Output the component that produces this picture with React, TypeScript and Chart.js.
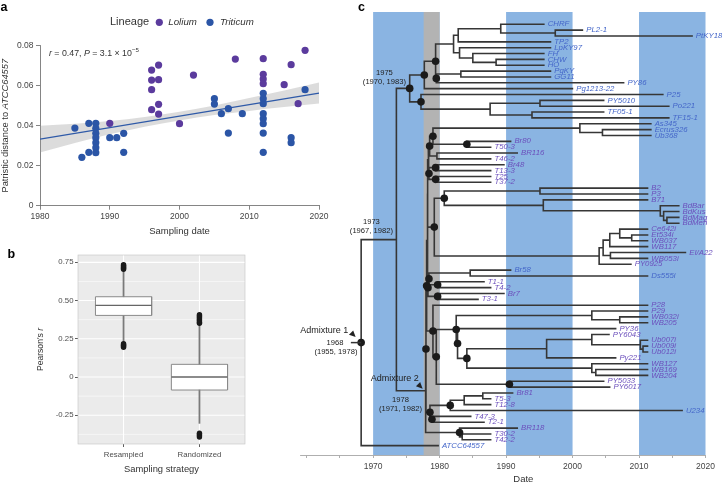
import { useEffect, useRef } from "react";
import { Chart, registerables } from "chart.js";

Chart.register(...registerables);

const SANS = "'Liberation Sans', Arial, Helvetica, sans-serif";
Chart.defaults.font.family = SANS;

const LOLIUM_COLOUR = "#5b3b9d";
const TRITICUM_COLOUR = "#2b55a6";
const TREE_BLUE = "#4466c9";
const TREE_PURPLE = "#6b4fbc";
const BAND_BLUE = "#8ab4e2";
const BAND_GREY = "#b3b3b3";

// ---------------- Panel a : root-to-tip regression ----------------
const loliumYear = [1990, 1996, 1996, 1996, 1996, 1997, 1997, 1997, 1997, 2000, 2002, 2008, 2012, 2012, 2012, 2012, 2015, 2016, 2017, 2018];
const loliumDistance = [0.0412, 0.0678, 0.0628, 0.058, 0.048, 0.0703, 0.063, 0.0507, 0.0458, 0.041, 0.0653, 0.0733, 0.0735, 0.0657, 0.0633, 0.061, 0.0605, 0.0705, 0.051, 0.0777];
const triticumYear = [1985, 1986, 1987, 1987, 1988, 1988, 1988, 1988, 1988, 1988, 1988, 1990, 1991, 1992, 1992, 2005, 2005, 2006, 2007, 2007, 2009, 2012, 2012, 2012, 2012, 2012, 2012, 2012, 2012, 2016, 2016, 2018];
const triticumDistance = [0.0388, 0.0242, 0.0412, 0.0267, 0.0412, 0.0387, 0.0362, 0.034, 0.0315, 0.029, 0.0265, 0.034, 0.034, 0.0362, 0.0267, 0.0535, 0.0508, 0.046, 0.0485, 0.0363, 0.046, 0.0562, 0.0535, 0.051, 0.046, 0.0435, 0.041, 0.0363, 0.0267, 0.034, 0.0315, 0.058];
const fitYear = [1980, 2020];
const fitDistance = [0.0333, 0.0563];
const bandYear = [1980, 1985, 1990, 1995, 2000, 2005, 2010, 2015, 2020];
const bandUpper = [0.04, 0.041, 0.0424, 0.0444, 0.047, 0.0501, 0.0538, 0.0576, 0.0616];
const bandLower = [0.0266, 0.0313, 0.0357, 0.0395, 0.0426, 0.0453, 0.0474, 0.0493, 0.0511];
const aXTickValues = [1980, 1990, 2000, 2010, 2020];
const aXTickLabels = ["1980", "1990", "2000", "2010", "2020"];
const aYTickValues = [0, 0.02, 0.04, 0.06, 0.08];
const aYTickLabels = ["0", "0.02", "0.04", "0.06", "0.08"];

// ---------------- Panel b : Pearson's r distributions ----------------
const strategies = ["Resampled", "Randomized"];
const whiskerLow = [0.222, -0.303];
const boxQ1 = [0.403, -0.085];
const boxMedian = [0.469, 0];
const boxQ3 = [0.525, 0.083];
const whiskerHigh = [0.7, 0.345];
const resampledOutliers = [0.195, 0.201, 0.207, 0.213, 0.218, 0.705, 0.711, 0.717, 0.723, 0.729, 0.734];
const randomizedOutliers = [-0.392, -0.384, -0.376, -0.368, 0.352, 0.359, 0.366, 0.373, 0.38, 0.387, 0.394, 0.401, 0.408];
const bYTickValues = [-0.375, -0.25, -0.125, 0, 0.125, 0.25, 0.375, 0.5, 0.625, 0.75];
const bYTickLabels = ["", "-0.25", "", "0", "", "0.25", "", "0.50", "", "0.75"];

// ---------------- Panel c : dated phylogeny ----------------
const tipNames = ["CHRF", "PL2-1", "PtKY18-1", "TP2", "LpKY97", "FH", "CHW", "HO", "PgKY", "GG11", "PY86", "Pg1213-22", "P25", "PY5010", "Po221", "TF05-1", "TF15-1", "As345", "Ecrus326", "Ub368", "Br80", "T50-3", "BR116", "T46-2", "Br48", "T13-3", "T25", "T37-2", "B2", "P3", "B71", "BdBar", "BdKus", "BdMag", "BdMeh", "Ce642i", "Et534i", "WB037", "WB117", "EI/A22", "WB053i", "PY0925", "Br58", "Ds555i", "T1-1", "T4-2", "Br7", "T3-1", "P28", "P29", "WB032i", "WB205", "PY36", "PY6043", "Ub007i", "Ub009i", "Ub012i", "Py221", "WB127", "WB169", "WB204", "PY5033", "PY6017", "Br81", "T5-3", "T12-8", "U234", "T47-3", "T2-1", "BR118", "T30-2", "T42-2", "ATCC64557"];
const tipDates = [1995.8, 2001.6, 2018.1, 1996.8, 1996.8, 1995.8, 1995.8, 1995.8, 1996.8, 1996.8, 2007.8, 2000.1, 2013.7, 2004.8, 2014.6, 2004.8, 2014.6, 2011.9, 2011.9, 2011.9, 1990.8, 1987.8, 1991.8, 1987.8, 1989.8, 1987.8, 1987.8, 1987.8, 2011.4, 2011.4, 2011.4, 2016.1, 2016.1, 2016.1, 2016.1, 2011.4, 2011.4, 2011.4, 2011.4, 2017.1, 2011.4, 2008.9, 1990.8, 2011.4, 1986.8, 1987.8, 1989.8, 1985.9, 2011.4, 2011.4, 2011.4, 2011.4, 2006.6, 2005.6, 2011.4, 2011.4, 2011.4, 2006.6, 2011.4, 2011.4, 2011.4, 2004.8, 2005.7, 1991.1, 1987.8, 1987.8, 2016.6, 1984.8, 1986.8, 1991.8, 1987.8, 1987.8, 1979.9];
const tipHost = ["L", "L", "L", "L", "L", "L", "L", "L", "L", "L", "L", "L", "L", "L", "L", "L", "L", "L", "L", "L", "T", "T", "T", "T", "T", "T", "T", "T", "T", "T", "T", "T", "T", "T", "T", "T", "T", "T", "T", "T", "T", "T", "L", "L", "T", "T", "T", "T", "T", "T", "T", "T", "T", "T", "T", "T", "T", "T", "T", "T", "T", "T", "T", "T", "T", "T", "L", "T", "T", "T", "T", "T", "L"];
const nodeNames = ["n555", "n500", "n458", "nFH3", "nFH2", "nF", "n453", "nPG", "nA2", "nA1", "nA", "n540", "n531", "n490", "nB", "n1975", "nEc", "nAs", "nBr80", "n433", "nBR116", "n429a", "nBr48", "nT25", "n429b", "nU1", "nB2", "nBd3", "nBd2", "nBd1", "nB71", "n444", "nCe2", "nCe1", "nCe", "nEI", "nCE", "n599", "n434", "nBr58", "nT1", "n428", "nBr7", "nU3", "nWB", "nP29", "nUb2", "nUb", "nPY", "n546", "nWB2", "nWB1", "n467", "n457", "n456", "n509", "n436", "nLow", "nBr81a", "n464", "nU234", "nT47", "n411", "nT30", "nBR118", "nU12", "nM1", "nM", "nL1", "nAdm2", "n1973", "root"];
const nodeDates = [1997.4, 1989.2, 1982.8, 1988.5, 1985.0, 1983.0, 1982.1, 1983.2, 1979.5, 1979.4, 1977.7, 1995.1, 1993.9, 1987.6, 1977.2, 1975.5, 2004.5, 2001.1, 1984.1, 1979.0, 1979.6, 1978.5, 1979.4, 1979.4, 1978.4, 1978.3, 1995.1, 2014.2, 2013.7, 2013.2, 1995.6, 1980.7, 2008.9, 2007.1, 2005.6, 2005.7, 2004.6, 2004.0, 1979.2, 1984.6, 1979.7, 1978.4, 1979.7, 1978.25, 2007.1, 2002.9, 2010.6, 2010.2, 2002.9, 1996.1, 2003.5, 2002.9, 1984.1, 1982.7, 1982.5, 1990.5, 1979.5, 1979.0, 1986.5, 1983.7, 1981.6, 1978.85, 1978.55, 1983.4, 1983.0, 1978.2, 1978.15, 1978.05, 1977.95, 1977.9, 1973.5, 1968.2];
const nodeChildren = ["PL2-1,PtKY18-1", "CHRF,n555", "n500,TP2", "CHW,HO", "FH,nFH3", "LpKY97,nFH2", "n458,nF", "PgKY,GG11", "nPG,PY86", "n453,nA2", "nA1,Pg1213-22", "PY5010,Po221", "TF05-1,TF15-1", "n540,n531", "P25,n490", "nA,nB", "Ecrus326,Ub368", "As345,nEc", "Br80,T50-3", "nAs,nBr80", "BR116,T46-2", "n433,nBR116", "Br48,T13-3", "T25,T37-2", "nBr48,nT25", "n429a,n429b", "B2,P3", "BdMag,BdMeh", "BdKus,nBd3", "BdBar,nBd2", "B71,nBd1", "nB2,nB71", "Et534i,WB037", "Ce642i,nCe2", "nCe1,WB117", "EI/A22,WB053i", "nCe,nEI", "nCE,PY0925", "n444,n599", "Br58,Ds555i", "T1-1,T4-2", "nBr58,nT1", "Br7,T3-1", "n428,nBr7", "WB032i,WB205", "P29,nWB", "Ub009i,Ub012i", "Ub007i,nUb2", "PY6043,nUb", "nPY,Py221", "WB169,WB204", "WB127,nWB2", "n546,nWB1", "PY36,n467", "nP29,n457", "PY5033,PY6017", "n456,n509", "P28,n436", "Br81,T5-3", "nBr81a,T12-8", "n464,U234", "T47-3,T2-1", "nU234,nT47", "T30-2,T42-2", "BR118,nT30", "nU1,n434", "nU12,nU3", "nM1,nLow", "nM,n411", "nL1,nBR118", "n1975,nAdm2", "n1973,ATCC64557"];
const nodeSupported = [0, 0, 0, 0, 0, 0, 0, 0, 1, 1, 1, 0, 0, 0, 1, 1, 0, 0, 1, 1, 0, 1, 1, 1, 1, 0, 0, 0, 0, 0, 0, 1, 0, 0, 0, 0, 0, 0, 1, 0, 1, 1, 1, 1, 0, 0, 0, 0, 0, 0, 0, 0, 1, 1, 1, 1, 1, 1, 0, 0, 1, 1, 1, 0, 1, 0, 0, 1, 1, 0, 0, 1];
const decadeBandStart = [1970, 1990, 2010];
const decadeBandEnd = [1980, 2000, 2020];
const greyBandStart = 1977.6;
const greyBandEnd = 1980;
const cXTickValues = [1960, 1965, 1970, 1975, 1980, 1985, 1990, 1995, 2000, 2005, 2010, 2015, 2020];
const cXTickLabels = ["", "", "1970", "", "1980", "", "1990", "", "2000", "", "2010", "", "2020"];
const nodeMedianLabels = ["1975", "1973", "1968", "1978"];
const nodeIntervalLabels = ["(1970, 1983)", "(1967, 1982)", "(1955, 1978)", "(1971, 1982)"];
const admixtureLabels = ["Admixture 1", "Admixture 2"];

type Part = { t: string; italic?: boolean; bold?: boolean; sup?: boolean };

function richText(ctx: CanvasRenderingContext2D, parts: Part[], x: number, y: number, size: number, align: string) {
  const fontFor = (p: Part) => `${p.italic ? "italic " : ""}${p.bold ? "bold " : ""}${p.sup ? size * 0.7 : size}px ${SANS}`;
  let total = 0;
  for (const p of parts) {
    ctx.font = fontFor(p);
    total += ctx.measureText(p.t).width;
  }
  let cx = align === "center" ? x - total / 2 : align === "right" ? x - total : x;
  ctx.textAlign = "left";
  for (const p of parts) {
    ctx.font = fontFor(p);
    ctx.fillText(p.t, cx, p.sup ? y - size * 0.38 : y);
    cx += ctx.measureText(p.t).width;
  }
}

function setTicks(values: number[]) {
  return (scale: any) => {
    scale.ticks = values.map((v) => ({ value: v }));
  };
}

function makeScatter(canvas: HTMLCanvasElement) {
  const lolium = loliumYear.map((x, i) => ({ x, y: loliumDistance[i] }));
  const triticum = triticumYear.map((x, i) => ({ x, y: triticumDistance[i] }));
  const decor = {
    id: "panelA",
    afterDraw(chart: any) {
      const ctx = chart.ctx as CanvasRenderingContext2D;
      const area = chart.chartArea;
      ctx.save();
      ctx.textBaseline = "middle";
      ctx.fillStyle = "#000";
      richText(ctx, [{ t: "a", bold: true }], 0.5, 8, 12.5, "left");
      ctx.fillStyle = "#333";
      richText(ctx, [{ t: "Lineage" }], 110, 22.3, 11, "left");
      ctx.fillStyle = LOLIUM_COLOUR;
      ctx.beginPath();
      ctx.arc(159.3, 22.3, 3.6, 0, Math.PI * 2);
      ctx.fill();
      ctx.fillStyle = TRITICUM_COLOUR;
      ctx.beginPath();
      ctx.arc(210, 22.3, 3.6, 0, Math.PI * 2);
      ctx.fill();
      ctx.fillStyle = "#333";
      richText(ctx, [{ t: "Lolium", italic: true }], 168.3, 22.3, 9.7, "left");
      richText(ctx, [{ t: "Triticum", italic: true }], 220, 22.3, 9.7, "left");
      richText(
        ctx,
        [{ t: "r", italic: true }, { t: " = 0.47, " }, { t: "P", italic: true }, { t: " = 3.1 × 10" }, { t: "−5", sup: true }],
        49,
        54,
        8.8,
        "left"
      );
      richText(ctx, [{ t: "Sampling date" }], (area.left + area.right) / 2, 231, 9.5, "center");
      ctx.translate(5.5, (area.top + area.bottom) / 2);
      ctx.rotate(-Math.PI / 2);
      richText(ctx, [{ t: "Patristic distance to " }, { t: "ATCC64557", italic: true }], 0, 0, 9.3, "center");
      ctx.restore();
    },
  };
  return new Chart(canvas, {
    type: "scatter",
    data: {
      datasets: [
        { label: "Lolium", data: lolium, backgroundColor: LOLIUM_COLOUR, borderWidth: 0, pointRadius: 3.6 },
        { label: "Triticum", data: triticum, backgroundColor: TRITICUM_COLOUR, borderWidth: 0, pointRadius: 3.6 },
        {
          type: "line",
          label: "fit",
          data: fitYear.map((x, i) => ({ x, y: fitDistance[i] })),
          borderColor: "#2f5aa8",
          borderWidth: 1.4,
          pointRadius: 0,
          fill: false,
        },
        {
          type: "line",
          label: "ci upper",
          data: bandYear.map((x, i) => ({ x, y: bandUpper[i] })),
          borderColor: "rgba(0,0,0,0)",
          borderWidth: 0,
          pointRadius: 0,
          cubicInterpolationMode: "monotone",
          fill: "+1",
          backgroundColor: "rgba(150,150,150,0.33)",
        },
        {
          type: "line",
          label: "ci lower",
          data: bandYear.map((x, i) => ({ x, y: bandLower[i] })),
          borderColor: "rgba(0,0,0,0)",
          borderWidth: 0,
          pointRadius: 0,
          cubicInterpolationMode: "monotone",
          fill: false,
        },
      ] as any,
    },
    options: {
      animation: false,
      responsive: false,
      events: [],
      layout: { padding: { left: 14, top: 45.7, right: 9, bottom: 0 } },
      plugins: { legend: { display: false }, tooltip: { enabled: false } },
      scales: {
        x: {
          type: "linear",
          min: 1980,
          max: 2020,
          afterBuildTicks: setTicks(aXTickValues),
          afterFit: (s: any) => {
            s.height = 34.3;
          },
          grid: { drawOnChartArea: false, tickLength: 4, color: "#666", tickWidth: 0.8 },
          border: { color: "#666", width: 0.8 },
          ticks: {
            autoSkip: false,
            maxRotation: 0,
            padding: 1.5,
            color: "#444",
            font: { size: 8.5 },
            callback: (_v: any, i: number) => aXTickLabels[i],
          },
        },
        y: {
          type: "linear",
          min: 0,
          max: 0.08,
          afterBuildTicks: setTicks(aYTickValues),
          afterFit: (s: any) => {
            s.width = 26;
          },
          grid: { drawOnChartArea: false, tickLength: 4, color: "#666", tickWidth: 0.8 },
          border: { color: "#666", width: 0.8 },
          ticks: {
            autoSkip: false,
            padding: 2.5,
            color: "#444",
            font: { size: 8.5 },
            callback: (_v: any, i: number) => aYTickLabels[i],
          },
        },
      },
    } as any,
    plugins: [decor],
  });
}

function makeBoxes(canvas: HTMLCanvasElement) {
  const half = 0.37;
  // whiskers as thin floating bars
  const whiskerBars: any[] = [];
  strategies.forEach((_s, i) => {
    whiskerBars.push({ x: i + 1, y: [whiskerLow[i], boxQ1[i]] }, { x: i + 1, y: [boxQ3[i], whiskerHigh[i]] });
  });
  const outlines = strategies.map((_s, i) => {
    const c = i + 1;
    return {
      type: "line",
      label: "box outline " + i,
      data: [
        { x: c - half, y: boxQ1[i] },
        { x: c - half, y: boxQ3[i] },
        { x: c + half, y: boxQ3[i] },
        { x: c + half, y: boxQ1[i] },
        { x: c - half, y: boxQ1[i] },
      ],
      borderColor: "#8a8a8a",
      borderWidth: 1,
      pointRadius: 0,
      fill: false,
      borderJoinStyle: "miter",
    };
  });
  const medians = strategies.map((_s, i) => ({
    type: "line",
    label: "median " + i,
    data: [
      { x: i + 1 - half, y: boxMedian[i] },
      { x: i + 1 + half, y: boxMedian[i] },
    ],
    borderColor: "#666666",
    borderWidth: 1.3,
    pointRadius: 0,
    fill: false,
  }));
  const outliers = [
    ...resampledOutliers.map((y) => ({ x: 1, y })),
    ...randomizedOutliers.map((y) => ({ x: 2, y })),
  ];
  const fills = strategies.map((_s, i) => ({
    type: "line",
    label: "box " + i,
    data: [
      { x: i + 1 - half, y: boxQ3[i] },
      { x: i + 1 + half, y: boxQ3[i] },
    ],
    borderColor: "rgba(0,0,0,0)",
    borderWidth: 0,
    pointRadius: 0,
    fill: { value: boxQ1[i] },
    backgroundColor: "#ffffff",
  }));
  const decor = {
    id: "panelB",
    beforeDraw(chart: any) {
      const ctx = chart.ctx as CanvasRenderingContext2D;
      const a = chart.chartArea;
      const xs = chart.scales.x;
      const ys = chart.scales.y;
      ctx.save();
      ctx.fillStyle = "#ebebeb";
      ctx.fillRect(a.left, a.top, a.right - a.left, a.bottom - a.top);
      ctx.strokeStyle = "#ffffff";
      bYTickValues.forEach((v, i) => {
        const y = ys.getPixelForValue(v);
        ctx.lineWidth = bYTickLabels[i] ? 1.1 : 0.55;
        ctx.beginPath();
        ctx.moveTo(a.left, y);
        ctx.lineTo(a.right, y);
        ctx.stroke();
      });
      ctx.lineWidth = 1.1;
      strategies.forEach((_s, i) => {
        const x = xs.getPixelForValue(i + 1);
        ctx.beginPath();
        ctx.moveTo(x, a.top);
        ctx.lineTo(x, a.bottom);
        ctx.stroke();
      });
      ctx.restore();
    },
    afterDraw(chart: any) {
      const ctx = chart.ctx as CanvasRenderingContext2D;
      const a = chart.chartArea;
      ctx.save();
      ctx.strokeStyle = "#c4c4c4";
      ctx.lineWidth = 0.6;
      ctx.strokeRect(a.left, a.top, a.right - a.left, a.bottom - a.top);
      ctx.textBaseline = "middle";
      ctx.fillStyle = "#000";
      richText(ctx, [{ t: "b", bold: true }], 7.5, 15, 12.5, "left");
      ctx.fillStyle = "#333";
      richText(ctx, [{ t: "Sampling strategy" }], (a.left + a.right) / 2, 229, 9.4, "center");
      ctx.translate(40.5, (a.top + a.bottom) / 2);
      ctx.rotate(-Math.PI / 2);
      richText(ctx, [{ t: "Pearson's " }, { t: "r", italic: true }], 0, 0, 8.6, "center");
      ctx.restore();
    },
  };
  return new Chart(canvas, {
    type: "scatter",
    data: {
      datasets: [
        { label: "outliers", data: outliers, backgroundColor: "#1a1a1a", borderWidth: 0, pointRadius: 2.7 },
        ...medians,
        ...outlines,
        {
          type: "bar",
          label: "whiskers",
          data: whiskerBars,
          backgroundColor: "#7a7a7a",
          borderWidth: 0,
          barThickness: 1.1,
          grouped: false,
        },
        ...fills,
      ] as any,
    },
    options: {
      animation: false,
      responsive: false,
      events: [],
      layout: { padding: { left: 34, top: 15, right: 85, bottom: 0 } },
      plugins: { legend: { display: false }, tooltip: { enabled: false } },
      scales: {
        x: {
          type: "linear",
          min: 0.4,
          max: 2.6,
          offset: false,
          afterBuildTicks: setTicks([1, 2]),
          afterFit: (s: any) => {
            s.height = 41;
          },
          grid: { drawOnChartArea: false, offset: false, tickLength: 3, color: "#333", tickColor: "#333", tickWidth: 0.8 },
          border: { display: false },
          ticks: {
            autoSkip: false,
            maxRotation: 0,
            padding: 3,
            color: "#4d4d4d",
            font: { size: 7.8 },
            callback: (_v: any, i: number) => strategies[i],
          },
        },
        y: {
          type: "linear",
          min: -0.438,
          max: 0.798,
          afterBuildTicks: setTicks(bYTickValues),
          afterFit: (s: any) => {
            s.width = 44;
          },
          grid: {
            drawOnChartArea: false,
            tickLength: 3,
            tickColor: (c: any) => (bYTickLabels[c.index] ? "#333" : "rgba(0,0,0,0)"),
            tickWidth: 0.8,
          },
          border: { display: false },
          ticks: {
            autoSkip: false,
            padding: 1.5,
            color: "#4d4d4d",
            font: { size: 7.8 },
            callback: (_v: any, i: number) => bYTickLabels[i],
          },
        },
      },
    } as any,
    plugins: [decor],
  });
}

function buildTree() {
  const date = new Map<string, number>();
  const row = new Map<string, number>();
  tipNames.forEach((n, i) => {
    date.set(n, tipDates[i]);
    row.set(n, i + 1);
  });
  nodeNames.forEach((n, i) => date.set(n, nodeDates[i]));
  const kids = (n: string) => nodeChildren[nodeNames.indexOf(n)].split(",");
  const rowOf = (n: string): number => {
    if (!row.has(n)) {
      const ys = kids(n).map(rowOf);
      row.set(n, ys.reduce((a, b) => a + b, 0) / ys.length);
    }
    return row.get(n) as number;
  };
  nodeNames.forEach(rowOf);
  const segments: any[] = [];
  nodeNames.forEach((n) => {
    const cs = kids(n).sort((a, b) => rowOf(a) - rowOf(b));
    const nx = date.get(n) as number;
    const first = cs[0];
    const last = cs[cs.length - 1];
    segments.push(
      { x: date.get(first), y: rowOf(first) },
      { x: nx, y: rowOf(first) },
      { x: nx, y: rowOf(last) },
      { x: date.get(last), y: rowOf(last) },
      { x: nx, y: null }
    );
    cs.slice(1, -1).forEach((c) => {
      segments.push({ x: nx, y: rowOf(c) }, { x: date.get(c), y: rowOf(c) }, { x: nx, y: null });
    });
  });
  const dots = nodeNames
    .filter((_n, i) => nodeSupported[i] === 1)
    .map((n) => ({ x: date.get(n), y: rowOf(n) }));
  return { date, rowOf, segments, dots };
}

function arrowHead(ctx: CanvasRenderingContext2D, tx: number, ty: number) {
  const len = 6.5;
  const w = 3;
  const ux = Math.SQRT1_2;
  const uy = Math.SQRT1_2;
  const bx = tx - ux * len;
  const by = ty - uy * len;
  ctx.beginPath();
  ctx.moveTo(tx, ty);
  ctx.lineTo(bx - uy * w, by + ux * w);
  ctx.lineTo(bx + uy * w, by - ux * w);
  ctx.closePath();
  ctx.fill();
}

function makeTree(canvas: HTMLCanvasElement) {
  const tree = buildTree();
  const decor = {
    id: "panelC",
    beforeDraw(chart: any) {
      const ctx = chart.ctx as CanvasRenderingContext2D;
      const a = chart.chartArea;
      const xs = chart.scales.x;
      ctx.save();
      ctx.fillStyle = BAND_BLUE;
      decadeBandStart.forEach((s, i) => {
        const x0 = xs.getPixelForValue(s);
        const x1 = xs.getPixelForValue(decadeBandEnd[i]);
        ctx.fillRect(x0, a.top, x1 - x0, a.bottom - a.top);
      });
      ctx.fillStyle = BAND_GREY;
      const g0 = xs.getPixelForValue(greyBandStart);
      const g1 = xs.getPixelForValue(greyBandEnd);
      ctx.fillRect(g0, a.top, g1 - g0, a.bottom - a.top);
      ctx.restore();
    },
    afterDatasetsDraw(chart: any) {
      const ctx = chart.ctx as CanvasRenderingContext2D;
      const xs = chart.scales.x;
      const ys = chart.scales.y;
      const P = (n: string) => ({
        x: xs.getPixelForValue(tree.date.get(n)),
        y: ys.getPixelForValue(tree.rowOf(n)),
      });
      ctx.save();
      ctx.textBaseline = "middle";
      ctx.font = `italic 7.8px ${SANS}`;
      ctx.textAlign = "left";
      tipNames.forEach((n, i) => {
        ctx.fillStyle = tipHost[i] === "L" ? TREE_BLUE : TREE_PURPLE;
        ctx.fillText(n, xs.getPixelForValue(tipDates[i]) + 3, ys.getPixelForValue(i + 1));
      });
      ctx.fillStyle = "#222";
      let p = P("n1975");
      richText(ctx, [{ t: nodeMedianLabels[0] }], p.x - 25.3, p.y - 15.7, 7.6, "center");
      richText(ctx, [{ t: nodeIntervalLabels[0] }], p.x - 25.3, p.y - 6.7, 7.6, "center");
      p = P("n1973");
      richText(ctx, [{ t: nodeMedianLabels[1] }], p.x - 25, p.y - 17.7, 7.6, "center");
      richText(ctx, [{ t: nodeIntervalLabels[1] }], p.x - 25, p.y - 8.7, 7.6, "center");
      p = P("root");
      richText(ctx, [{ t: admixtureLabels[0] }], p.x - 13, p.y - 12.5, 9, "right");
      arrowHead(ctx, p.x - 5.5, p.y - 5.5);
      richText(ctx, [{ t: nodeMedianLabels[2] }], p.x - 17.7, p.y, 7.6, "right");
      richText(ctx, [{ t: nodeIntervalLabels[2] }], p.x - 3.7, p.y + 9.3, 7.6, "right");
      ctx.strokeStyle = "#333";
      ctx.lineWidth = 1.5;
      ctx.beginPath();
      ctx.moveTo(p.x - 10.3, p.y);
      ctx.lineTo(p.x, p.y);
      ctx.stroke();
      p = P("nAdm2");
      richText(ctx, [{ t: admixtureLabels[1] }], p.x - 31, p.y - 12, 9, "center");
      arrowHead(ctx, p.x - 3, p.y - 2);
      richText(ctx, [{ t: nodeMedianLabels[3] }], p.x - 25.2, p.y + 9.5, 7.6, "center");
      richText(ctx, [{ t: nodeIntervalLabels[3] }], p.x - 25.2, p.y + 18.5, 7.6, "center");
      ctx.restore();
    },
    afterDraw(chart: any) {
      const ctx = chart.ctx as CanvasRenderingContext2D;
      const xs = chart.scales.x;
      ctx.save();
      ctx.textBaseline = "middle";
      ctx.fillStyle = "#333";
      richText(ctx, [{ t: "Date" }], xs.getPixelForValue(1992.6), 479, 9.5, "center");
      ctx.fillStyle = "#000";
      richText(ctx, [{ t: "c", bold: true }], 68, 7.5, 12.5, "left");
      ctx.restore();
    },
  };
  return new Chart(canvas, {
    type: "scatter",
    data: {
      datasets: [
        { label: "supported nodes", data: tree.dots, backgroundColor: "#1b1b1b", borderWidth: 0, pointRadius: 3.8, clip: false },
        {
          type: "line",
          label: "branches",
          data: tree.segments,
          borderColor: "#363636",
          borderWidth: 1.6,
          pointRadius: 0,
          spanGaps: false,
          fill: false,
          borderJoinStyle: "miter",
          clip: false,
        },
      ] as any,
    },
    options: {
      animation: false,
      responsive: false,
      events: [],
      layout: { padding: { left: 10, top: 12, right: 16.5, bottom: 0 } },
      plugins: { legend: { display: false }, tooltip: { enabled: false } },
      scales: {
        x: {
          type: "linear",
          min: 1959,
          max: 2020,
          afterBuildTicks: setTicks(cXTickValues),
          afterFit: (s: any) => {
            s.height = 30;
          },
          grid: { drawOnChartArea: false, tickLength: 3, color: "#9a9a9a", tickWidth: 0.8 },
          border: { color: "#9a9a9a", width: 0.8 },
          ticks: {
            autoSkip: false,
            maxRotation: 0,
            padding: 3.5,
            color: "#444",
            font: { size: 8.5 },
            callback: (_v: any, i: number) => cXTickLabels[i],
          },
        },
        y: { type: "linear", display: false, min: -1.1, max: 74.6, reverse: true },
      },
    } as any,
    plugins: [decor],
  });
}

export default function App() {
  const aRef = useRef<HTMLCanvasElement>(null);
  const bRef = useRef<HTMLCanvasElement>(null);
  const cRef = useRef<HTMLCanvasElement>(null);
  useEffect(() => {
    const charts = [
      makeScatter(aRef.current as HTMLCanvasElement),
      makeBoxes(bRef.current as HTMLCanvasElement),
      makeTree(cRef.current as HTMLCanvasElement),
    ];
    return () => charts.forEach((c) => c.destroy());
  }, []);
  return (
    <div style={{ position: "absolute", left: 0, top: 0, width: 722, height: 485, background: "#fff", overflow: "hidden" }}>
      <canvas ref={aRef} width={330} height={240} style={{ position: "absolute", left: 0, top: 0, width: 330, height: 240 }} />
      <canvas ref={bRef} width={330} height={245} style={{ position: "absolute", left: 0, top: 240, width: 330, height: 245 }} />
      <canvas ref={cRef} width={432} height={485} style={{ position: "absolute", left: 290, top: 0, width: 432, height: 485 }} />
    </div>
  );
}
